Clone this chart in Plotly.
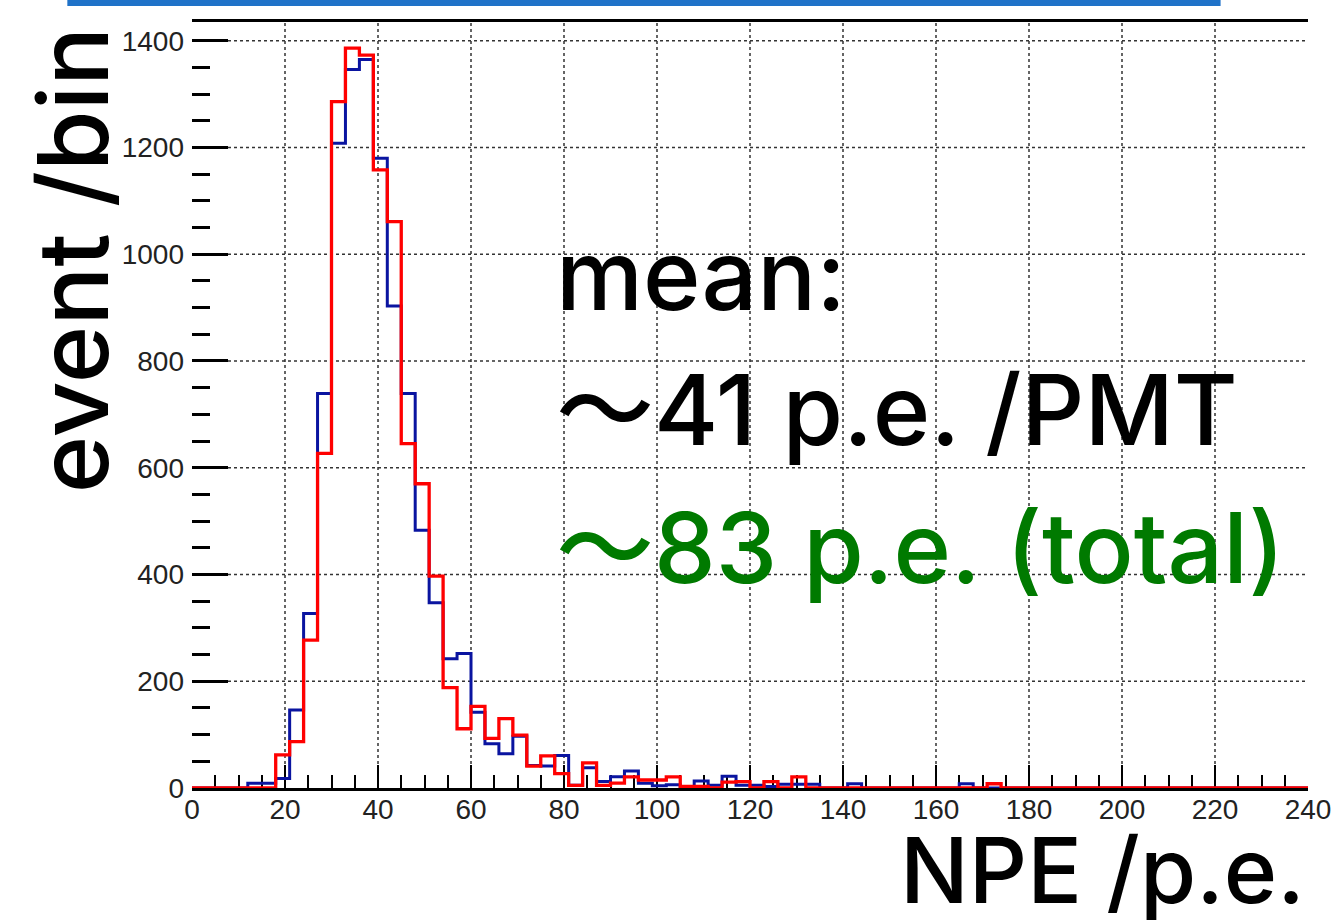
import plotly.graph_objects as go

# ---------------- data ----------------
bin_width = 3
n_bins = 80
blue_counts = [0, 0, 0, 0, 9, 9, 18, 146, 327, 739,
               1208, 1346, 1365, 1180, 903, 739, 483, 347, 242, 252,
               142, 83, 64, 97, 42, 41, 61, 5, 38, 12,
               21, 32, 9, 4, 6, 3, 13, 5, 22, 5,
               5, 3, 7, 7, 7, 0, 0, 8, 0, 0,
               0, 0, 0, 0, 0, 8, 0, 0, 0, 0,
               0, 0, 0, 0, 0, 0, 0, 0, 0, 0,
               0, 0, 0, 0, 0, 0, 0, 0, 0, 0]
red_counts = [0, 0, 0, 0, 0, 0, 62, 87, 277, 627,
              1286, 1386, 1373, 1158, 1061, 645, 570, 397, 188, 111,
              153, 93, 130, 99, 41, 60, 27, 5, 47, 5,
              9, 21, 15, 15, 21, 3, 3, 0, 11, 12,
              0, 12, 0, 21, 0, 0, 0, 0, 0, 0,
              0, 0, 0, 0, 0, 0, 0, 8, 0, 0,
              0, 0, 0, 0, 0, 0, 0, 0, 0, 0,
              0, 0, 0, 0, 0, 0, 0, 0, 0, 0]
x_tick_vals = [0, 20, 40, 60, 80, 100, 120, 140, 160, 180, 200, 220, 240]
y_tick_vals = [0, 200, 400, 600, 800, 1000, 1200, 1400]
x_grid_vals = [20, 40, 60, 80, 100, 120, 140, 160, 180, 200, 220]
y_grid_vals = [200, 400, 600, 800, 1000, 1200, 1400]

texts_right = ["mean:", "〜41 p.e. /PMT", "〜83 p.e. (total)"]
y_title = "event /bin"
x_title = "NPE /p.e."

# ---------------- geometry ----------------
W, H = 1343, 920
L, R, T, B = 191.5, 1315.0, 22.0, 788.0
PW, PH = R - L, B - T


def px(xp):
    return (xp - L) / PW


def py(yp):
    return (B - yp) / PH


edges = [i * bin_width for i in range(n_bins + 1)]

fig = go.Figure()
fig.add_trace(go.Scatter(x=edges, y=blue_counts + [blue_counts[-1]], mode="lines",
                         line=dict(shape="hv", color="#0a14a0", width=3),
                         hoverinfo="skip", showlegend=False))
fig.add_trace(go.Scatter(x=edges, y=red_counts + [red_counts[-1]], mode="lines",
                         line=dict(shape="hv", color="#ff0000", width=3.3),
                         hoverinfo="skip", showlegend=False))

# dotted grid
for v in x_grid_vals:
    fig.add_shape(type="line", x0=v, x1=v, y0=0, y1=1, xref="x", yref="paper",
                  line=dict(color="#333", width=1.5, dash="dot"), layer="below")
for v in y_grid_vals:
    fig.add_shape(type="line", x0=0, x1=1, y0=v, y1=v, xref="paper", yref="y",
                  line=dict(color="#333", width=1.5, dash="dot"), layer="below")

# blue banner at top
fig.add_shape(type="rect", xref="paper", yref="paper",
              x0=px(66), x1=px(1227), y0=py(6), y1=py(-2),
              fillcolor="#1f72c8", line=dict(width=0))

tick_font = dict(family="Liberation Sans, Arial", size=28, color="#222")

fig.update_layout(
    width=W, height=H, autosize=False,
    margin=dict(l=L, r=W - R, t=T, b=H - B, pad=0),
    paper_bgcolor="white", plot_bgcolor="white",
    xaxis=dict(range=[0, 240], tickmode="array", tickvals=x_tick_vals,
               ticktext=[str(v) for v in x_tick_vals],
               ticks="inside", ticklen=23, tickwidth=2, tickcolor="black",
               minor=dict(ticks="inside", ticklen=13, tickwidth=2, tickcolor="black",
                          dtick=5, tick0=0),
               showline=True, linecolor="black", linewidth=2.5, mirror=True,
               showgrid=False, zeroline=False, tickfont=tick_font,
               ticklabelstandoff=-5,
               layer="below traces", fixedrange=True),
    yaxis=dict(range=[0, (B - T) / ((B - 40.7) / 1400)], tickmode="array",
               tickvals=y_tick_vals, ticktext=[str(v) for v in y_tick_vals],
               ticks="inside", ticklen=36, tickwidth=2.5, tickcolor="black",
               minor=dict(ticks="inside", ticklen=18, tickwidth=2.5, tickcolor="black",
                          dtick=50, tick0=0),
               showline=False, showgrid=False, zeroline=False, tickfont=tick_font,
               ticklabelstandoff=7, layer="below traces", fixedrange=True),
)

big_font = "Inter, Noto Sans CJK JP, sans-serif"
ann = [
    dict(text=texts_right[0], x=px(556), y=py(274), color="#000000", size=98),
    dict(text=texts_right[1], x=px(556), y=py(409), color="#000000", size=98),
    dict(text=texts_right[2], x=px(556), y=py(547), color="#007a00", size=98),
    dict(text=x_title, x=px(902), y=py(870), color="#000000", size=91),
]
for a in ann:
    fig.add_annotation(text=a["text"], x=a["x"], y=a["y"], xref="paper", yref="paper",
                       xanchor="left", yanchor="middle", showarrow=False,
                       font=dict(family=big_font, size=a["size"], color=a["color"],
                                 weight=500))
fig.add_annotation(text=y_title, x=px(71), y=py(260), xref="paper", yref="paper",
                   xanchor="center", yanchor="middle", showarrow=False, textangle=-90,
                   font=dict(family=big_font, size=98, color="#000000", weight=500))

fig.write_html("out.html", config={"displayModeBar": False})
